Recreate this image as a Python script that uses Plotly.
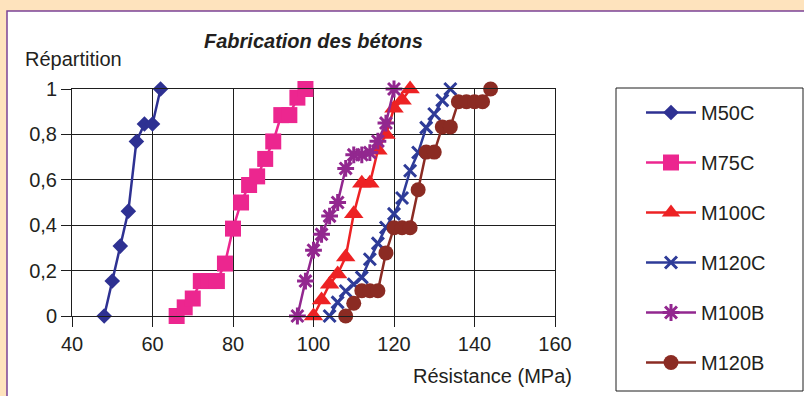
import plotly.graph_objects as go

# ---- data ----
series_names = ["M50C", "M75C", "M100C", "M120C", "M100B", "M120B"]

x_m50c = [48, 50, 52, 54, 56, 58, 60, 62]
y_m50c = [0, 0.154, 0.308, 0.462, 0.769, 0.846, 0.846, 1.0]

x_m75c = [66, 68, 70, 72, 74, 76, 78, 80, 82, 84, 86, 88, 90, 92, 94, 96, 98]
y_m75c = [0, 0.038, 0.077, 0.154, 0.154, 0.154, 0.231, 0.385, 0.5, 0.577,
          0.615, 0.692, 0.769, 0.885, 0.885, 0.962, 1.0]

x_m100c = [100, 102, 104, 106, 108, 110, 112, 114, 116, 118, 120, 122, 124]
y_m100c = [0, 0.07, 0.14, 0.185, 0.26, 0.45, 0.585, 0.585, 0.73, 0.80,
           0.915, 0.95, 1.0]

x_m120c = [104, 106, 108, 110, 112, 114, 116, 118, 120, 122, 124, 126, 128,
           130, 132, 134]
y_m120c = [0, 0.06, 0.11, 0.14, 0.17, 0.25, 0.32, 0.39, 0.45, 0.52, 0.64,
           0.72, 0.83, 0.89, 0.95, 1.0]

x_m100b = [96, 98, 100, 102, 104, 106, 108, 110, 112, 114, 116, 118, 120]
y_m100b = [0, 0.154, 0.29, 0.36, 0.44, 0.50, 0.65, 0.71, 0.71, 0.72, 0.77,
           0.85, 1.0]

x_m120b = [108, 110, 112, 114, 116, 118, 120, 122, 124, 126, 128, 130, 132,
           134, 136, 138, 140, 142, 144]
y_m120b = [0, 0.056, 0.111, 0.111, 0.111, 0.278, 0.389, 0.389, 0.389, 0.556,
           0.722, 0.722, 0.833, 0.833, 0.944, 0.944, 0.944, 0.944, 1.0]

x_ticks = [40, 60, 80, 100, 120, 140, 160]
y_ticks = [0, 0.2, 0.4, 0.6, 0.8, 1]
y_ticktext = ["0", "0,2", "0,4", "0,6", "0,8", "1"]

title_text = "Fabrication des bétons"
y_title = "Répartition"
x_title = "Résistance (MPa)"

# ---- styles ----
FONT = "Liberation Sans, Arial, Helvetica, sans-serif"
TXT = "#231F20"
W, H = 804, 396
L, R, T, B = 72, 249, 89, 80
PW, PH = W - L - R, H - T - B


def px(xp):
    return (xp - L) / PW


def py(yp):
    return (H - B - yp) / PH


styles = {
    "M50C": dict(color="#2E3192", symbol="diamond", size=12, lw=2.5),
    "M75C": dict(color="#EC268F", symbol="square", size=16, lw=2.5),
    "M100C": dict(color="#ED2224", symbol="triangle-up", size=17, lw=2.5),
    "M120C": dict(color="#2E3B98", symbol="x-thin", size=12, lw=2.5),
    "M100B": dict(color="#92278F", symbol="asterisk", size=14, lw=2.5),
    "M120B": dict(color="#8B2B23", symbol="circle", size=15, lw=2.5),
}

data = {
    "M50C": (x_m50c, y_m50c),
    "M75C": (x_m75c, y_m75c),
    "M100C": (x_m100c, y_m100c),
    "M120C": (x_m120c, y_m120c),
    "M100B": (x_m100b, y_m100b),
    "M120B": (x_m120b, y_m120b),
}

fig = go.Figure()
for name in series_names:
    xs, ys = data[name]
    s = styles[name]
    marker = dict(symbol=s["symbol"], size=s["size"], color=s["color"])
    if s["symbol"] in ("x-thin", "asterisk"):
        marker["line"] = dict(color=s["color"], width=3)
    fig.add_trace(go.Scatter(
        x=xs, y=ys, name=name, mode="lines+markers",
        line=dict(color=s["color"], width=s["lw"]),
        marker=marker, legendgroup=name, cliponaxis=False,
    ))

axis_common = dict(
    showgrid=True, gridcolor="#1e1e1e", gridwidth=1,
    showline=True, linecolor="#1e1e1e", linewidth=1, mirror=True,
    ticks="outside", ticklen=10, tickcolor="#1e1e1e", tickwidth=1,
    zeroline=False, tickfont=dict(size=20, color=TXT, family=FONT),
)

fig.update_layout(
    width=W, height=H, autosize=False,
    margin=dict(l=L, r=R, t=T, b=B, pad=0),
    paper_bgcolor="#FEE3BD", plot_bgcolor="white",
    font=dict(family=FONT, size=20, color=TXT),
    xaxis=dict(range=[40, 160], tickvals=x_ticks, **axis_common),
    yaxis=dict(range=[0, 1], tickvals=y_ticks, ticktext=y_ticktext,
               **axis_common),
    showlegend=True,
    legend=dict(
        x=px(641), y=py(93), xanchor="left", yanchor="top",
        bgcolor="rgba(0,0,0,0)", borderwidth=0,
        font=dict(size=20, color=TXT, family=FONT),
        tracegroupgap=21, itemwidth=50, maxheight=600,
    ),
    shapes=[
        dict(type="rect", xref="paper", yref="paper",
             x0=px(7), x1=px(815), y0=py(405), y1=py(11),
             fillcolor="white", line=dict(color="#7B4397", width=1.5),
             layer="below"),
        dict(type="rect", xref="paper", yref="paper",
             x0=px(616), x1=px(803), y0=py(391), y1=py(88),
             fillcolor="rgba(0,0,0,0)", line=dict(color="#1e1e1e", width=1),
             layer="below"),
    ],
    annotations=[
        dict(text="<b><i>" + title_text + "</i></b>", xref="paper",
             yref="paper", x=0.5, y=py(41), xanchor="center",
             yanchor="middle", showarrow=False,
             font=dict(size=20, color=TXT, family=FONT)),
        dict(text=y_title, xref="paper", yref="paper", x=px(23), y=py(59),
             xanchor="left", yanchor="middle", showarrow=False,
             font=dict(size=20, color=TXT, family=FONT)),
        dict(text=x_title, xref="paper", yref="paper", x=px(574), y=py(376),
             xanchor="right", yanchor="middle", showarrow=False,
             font=dict(size=20, color=TXT, family=FONT)),
    ],
)

fig.write_html("out.html", config={"displayModeBar": False})
